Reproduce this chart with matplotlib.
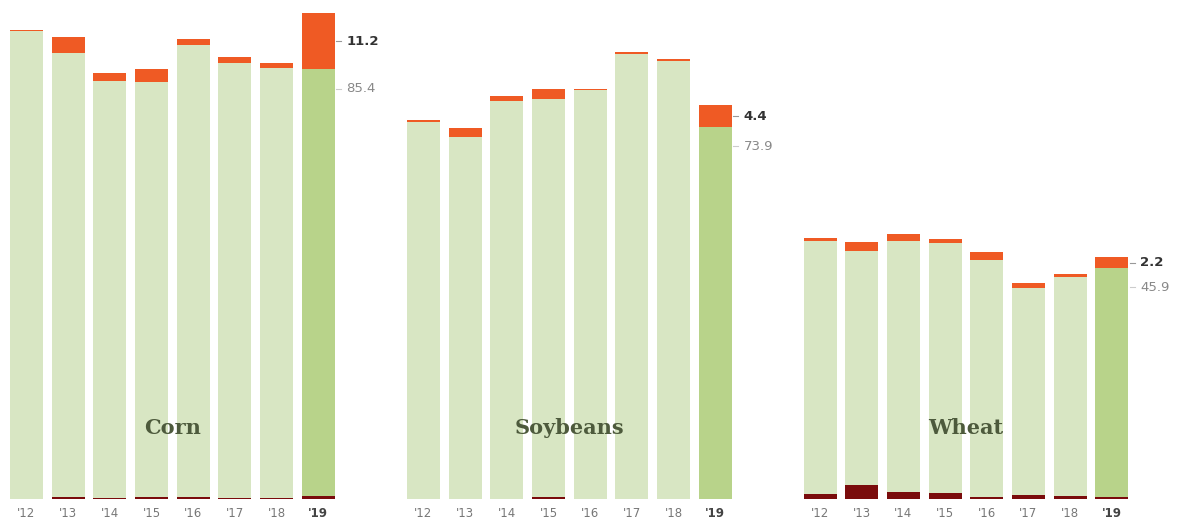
import matplotlib.pyplot as plt

years = ["'12", "'13", "'14", "'15", "'16", "'17", "'18", "'19"]

# millions of acres
corn_failed = [0.0, 0.4, 0.1, 0.3, 0.3, 0.2, 0.2, 0.5]
corn_planted = [93.0, 88.3, 83.0, 82.6, 90.0, 86.5, 85.5, 84.9]
corn_prevented = [0.3, 3.2, 1.6, 2.6, 1.2, 1.2, 1.0, 11.2]

soy_failed = [0.0, 0.0, 0.0, 0.3, 0.0, 0.0, 0.0, 0.0]
soy_planted = [75.0, 72.0, 79.1, 79.2, 81.3, 88.5, 87.1, 73.9]
soy_prevented = [0.3, 1.8, 1.0, 2.0, 0.2, 0.3, 0.3, 4.4]

wheat_failed = [0.9, 2.8, 1.4, 1.1, 0.3, 0.8, 0.5, 0.4]
wheat_planted = [50.4, 46.5, 49.9, 49.7, 47.2, 41.2, 43.6, 45.5]
wheat_prevented = [0.6, 1.8, 1.4, 0.9, 1.6, 0.9, 0.6, 2.2]

crops = ['Corn', 'Soybeans', 'Wheat']
failed = [corn_failed, soy_failed, wheat_failed]
planted = [corn_planted, soy_planted, wheat_planted]
prevented = [corn_prevented, soy_prevented, wheat_prevented]
label_planted = ['85.4', '73.9', '45.9']
label_prevented = ['11.2', '4.4', '2.2']

W, H = 1180, 521
fig = plt.figure(figsize=(W / 100, H / 100), dpi=100)

lefts = [5.6, 402.6, 799.2]
ax_w = 333.5
base = 22
ymax = 98
px_per = 5.03

for i, crop in enumerate(crops):
    ax = fig.add_axes([lefts[i] / W, base / H, ax_w / W, ymax * px_per / H])
    x = list(range(len(years)))
    green = ['#d8e6c3'] * 7 + ['#b8d38a']
    ax.bar(x, failed[i], width=0.79, color='#7a0c0c', linewidth=0)
    ax.bar(x, planted[i], width=0.79, bottom=failed[i], color=green, linewidth=0)
    tops = [f + p for f, p in zip(failed[i], planted[i])]
    ax.bar(x, prevented[i], width=0.79, bottom=tops, color='#ef5a24', linewidth=0)

    # labels for the 2019 bar
    top19 = tops[-1]
    ymid = top19 + prevented[i][-1] / 2
    ax.plot([7.43, 7.55], [ymid, ymid], color='#999999', lw=0.8, clip_on=False)
    ax.text(7.68, ymid, label_prevented[i], fontsize=9.5, fontweight='bold',
            color='#333333', va='center', ha='left')
    ylow = top19 - 3.8
    ax.plot([7.43, 7.55], [ylow, ylow], color='#cccccc', lw=0.8, clip_on=False)
    ax.text(7.68, ylow, label_planted[i], fontsize=9.5, color='#888888',
            va='center', ha='left')

    ax.text(3.5, 14.1, crop, fontsize=15, fontweight='bold', family='DejaVu Serif',
            color='#4d5a3c', ha='center', va='center')

    ax.set_xlim(-0.5, 7.5)
    ax.set_ylim(0, ymax)
    ax.set_xticks(x)
    ax.set_xticklabels(years, fontsize=8.5, color='#777777')
    ax.get_xticklabels()[-1].set_fontweight('bold')
    ax.get_xticklabels()[-1].set_color('#444444')
    ax.tick_params(axis='x', length=0, pad=6)
    ax.set_yticks([])
    for s in ax.spines.values():
        s.set_visible(False)
    ax.patch.set_alpha(0)

fig.savefig('out.png', dpi=100)
